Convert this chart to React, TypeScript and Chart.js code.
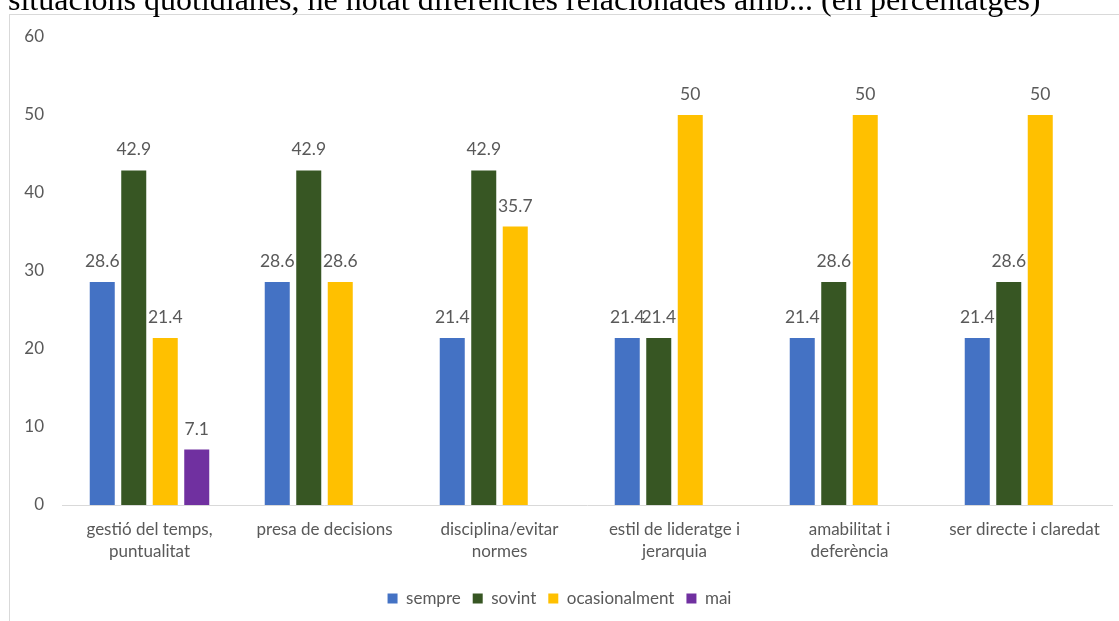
import React, { useEffect, useRef } from "react";
import { Chart, registerables } from "chart.js";

Chart.register(...registerables);

const TITLE = "situacions quotidianes, he notat diferències relacionades amb... (en percentatges)";

const categories: (string | string[])[] = [
  ["gestió del temps,", "puntualitat"],
  "presa de decisions",
  ["disciplina/evitar", "normes"],
  ["estil de lideratge i", "jerarquia"],
  ["amabilitat i", "deferència"],
  "ser directe i claredat",
];

const seriesNames = ["sempre", "sovint", "ocasionalment", "mai"];
const sempre = [28.6, 28.6, 21.4, 21.4, 21.4, 21.4];
const sovint = [42.9, 42.9, 42.9, 21.4, 28.6, 28.6];
const ocasionalment = [21.4, 28.6, 35.7, 50, 50, 50];
const mai = [7.1, null, null, null, null, null];
const seriesColors = ["#4472C4", "#375623", "#FFC000", "#7030A0"];

const yMin = 0;
const yMax = 60;
const yStep = 10;

const FONT = "Lato, 'Noto Sans', sans-serif";
const TEXT_COLOR = "#595959";

const valueLabels = {
  id: "valueLabels",
  afterDatasetsDraw(chart: any) {
    const ctx = chart.ctx;
    ctx.save();
    ctx.font = `17.5px ${FONT}`;
    ctx.fillStyle = TEXT_COLOR;
    ctx.textAlign = "center";
    ctx.textBaseline = "alphabetic";
    chart.data.datasets.forEach((ds: any, i: number) => {
      const meta = chart.getDatasetMeta(i);
      meta.data.forEach((el: any, j: number) => {
        const v = ds.data[j];
        if (v === null || v === undefined) return;
        ctx.fillText(String(v), el.x, el.y - 15);
      });
    });
    ctx.restore();
  },
};

export default function App() {
  const ref = useRef<HTMLCanvasElement>(null);

  useEffect(() => {
    document.body.style.margin = "0";
    const values = [sempre, sovint, ocasionalment, mai];
    const chart = new Chart(ref.current as HTMLCanvasElement, {
      type: "bar",
      data: {
        labels: categories,
        datasets: seriesNames.map((name, i) => ({
          label: name,
          data: values[i],
          backgroundColor: seriesColors[i],
          borderWidth: 0,
          barPercentage: 0.794,
          categoryPercentage: 0.72,
        })),
      },
      options: {
        responsive: false,
        animation: false,
        devicePixelRatio: 1,
        layout: { padding: { top: 37, left: 7, right: 7, bottom: 4 } },
        plugins: {
          title: { display: false },
          tooltip: { enabled: false },
          legend: {
            position: "bottom",
            labels: {
              boxWidth: 10,
              boxHeight: 10,
              padding: 12,
              color: TEXT_COLOR,
              font: { family: FONT, size: 17 },
            },
          },
        },
        scales: {
          x: {
            grid: { display: false, drawTicks: false },
            border: { display: true, color: "#d9d9d9", width: 1 },
            ticks: {
              color: TEXT_COLOR,
              font: { family: FONT, size: 17, lineHeight: 1.3 },
              padding: 13,
              maxRotation: 0,
              autoSkip: false,
            },
            afterFit: (scale: any) => {
              scale.height = 73;
            },
          },
          y: {
            min: yMin,
            max: yMax,
            grid: { display: false, drawTicks: false },
            border: { display: false },
            ticks: {
              stepSize: yStep,
              color: TEXT_COLOR,
              font: { family: FONT, size: 17 },
              padding: 18,
            },
            afterFit: (scale: any) => {
              scale.width = 55;
            },
          },
        },
      },
      plugins: [valueLabels],
    });
    return () => chart.destroy();
  }, []);

  return (
    <div style={{ position: "relative", width: 1119, height: 621, overflow: "hidden", background: "#fff" }}>
      <div
        style={{
          position: "absolute",
          left: 9,
          top: 14,
          width: 1200,
          height: 700,
          borderLeft: "1px solid #d9d9d9",
          borderTop: "1px solid #d9d9d9",
        }}
      />
      <canvas ref={ref} width={1119} height={621} style={{ position: "absolute", left: 0, top: 0 }} />
      <div
        style={{
          position: "absolute",
          left: 8,
          top: -17,
          fontFamily: "'Liberation Serif', 'Times New Roman', serif",
          fontSize: 32,
          lineHeight: "32px",
          whiteSpace: "nowrap",
          color: "#000",
          zIndex: 2,
        }}
      >
        {TITLE}
      </div>
    </div>
  );
}
